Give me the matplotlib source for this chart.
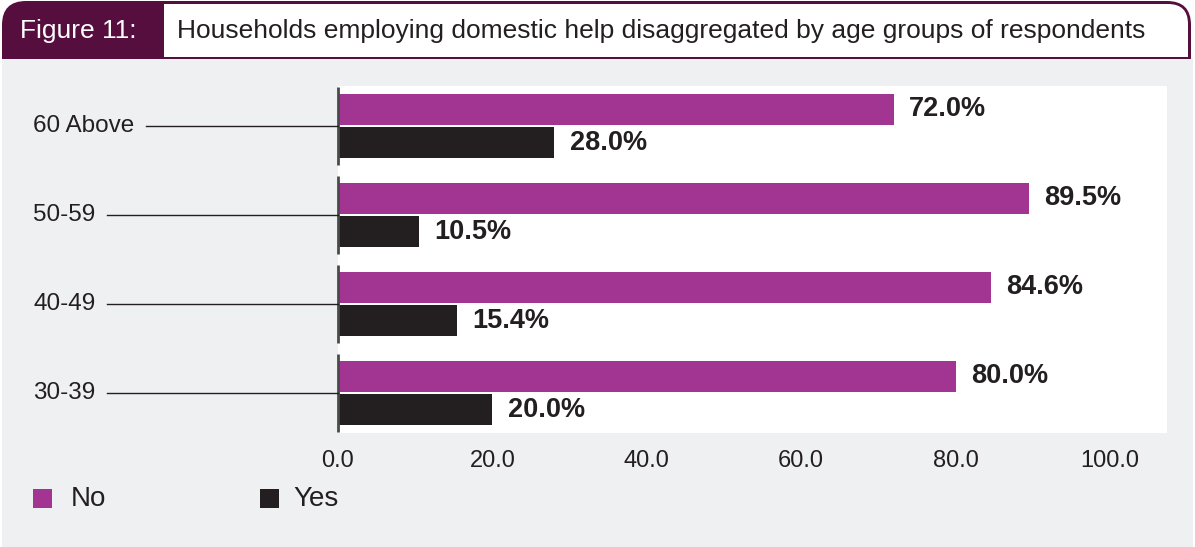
import matplotlib
matplotlib.use('Agg')
import matplotlib.pyplot as plt
from matplotlib.patches import FancyBboxPatch, Rectangle
from matplotlib.lines import Line2D
import numpy as np

# ── Data ───────────────────────────────────────────────────────────
age_groups = ['30-39', '40-49', '50-59', '60 Above']
no_pct = [80.0, 84.6, 89.5, 72.0]
yes_pct = [20.0, 15.4, 10.5, 28.0]
x_ticks = [0, 20, 40, 60, 80, 100]

fig_title = 'Households employing domestic help disaggregated by age groups of respondents'
fig_number = 'Figure 11:'

# ── Colours ────────────────────────────────────────────────────────
PURPLE = '#a33592'
BLACK = '#231f20'
HEADER = '#560e3e'
PANEL = '#eff0f2'

plt.rcParams['font.family'] = ['Liberation Sans', 'DejaVu Sans']

W, H = 1195, 547
fig = plt.figure(figsize=(W / 100, H / 100), dpi=100)

# Background layer in pixel coordinates (y grows downward)
bg = fig.add_axes([0, 0, 1, 1], zorder=0)
bg.set_xlim(0, W)
bg.set_ylim(H, 0)
bg.axis('off')

# grey panel
bg.add_patch(Rectangle((2, 58), W - 4, H - 58, facecolor=PANEL, edgecolor='none'))

# header band: purple shape with rounded top corners
bg.add_patch(FancyBboxPatch((2, 1), 1189, 60, boxstyle='round,pad=0,rounding_size=24',
                            facecolor=HEADER, edgecolor='none'))
bg.add_patch(Rectangle((2, 30), 1189, 29, facecolor=HEADER, edgecolor='none'))
bg.add_patch(Rectangle((2, 59), W - 4, 4, facecolor=PANEL, edgecolor='none'))

# white title box with rounded top-right corner
bg.add_patch(FancyBboxPatch((164, 4), 1024, 53, boxstyle='round,pad=0,rounding_size=20',
                            facecolor='white', edgecolor='none'))
bg.add_patch(Rectangle((164, 4), 900, 53, facecolor='white', edgecolor='none'))
bg.add_patch(Rectangle((164, 30), 1024, 27, facecolor='white', edgecolor='none'))

bg.text(20, 31, fig_number, color='white', fontsize=19, ha='left', va='center')
bg.text(177, 31, fig_title, color='#231f20', fontsize=19, ha='left', va='center')

# legend
bg.add_patch(Rectangle((33, 489), 19, 19, facecolor=PURPLE, edgecolor='none'))
bg.text(71, 499, 'No', fontsize=20, ha='left', va='center', color=BLACK)
bg.add_patch(Rectangle((260, 489), 19, 19, facecolor=BLACK, edgecolor='none'))
bg.text(293, 499, 'Yes', fontsize=20, ha='left', va='center', color=BLACK)

# ── Bar chart ──────────────────────────────────────────────────────
ax = fig.add_axes([338 / W, 1 - 433 / H, (1167 - 338) / W, (433 - 86) / H], zorder=1)
y = np.arange(len(age_groups))
h = 0.35
off = 0.187

ax.barh(y + off, no_pct, height=h, color=PURPLE, label='No')
ax.barh(y - off, yes_pct, height=h, color=BLACK, label='Yes')

for yi, v in zip(y, no_pct):
    ax.text(v + 2.0, yi + off, f'{v:.1f}%', va='center', ha='left',
            fontsize=19.5, fontweight='bold', color=BLACK)
for yi, v in zip(y, yes_pct):
    ax.text(v + 2.0, yi - off, f'{v:.1f}%', va='center', ha='left',
            fontsize=19.5, fontweight='bold', color=BLACK)

ax.set_xlim(0, 107.4)
ax.set_ylim(-0.45, len(age_groups) - 0.55)
ax.set_facecolor('white')
for s in ax.spines.values():
    s.set_visible(False)
ax.set_xticks(x_ticks)
ax.set_xticklabels([f'{t:.1f}' for t in x_ticks], fontsize=17, color=BLACK)
ax.tick_params(axis='x', length=0, pad=12)
ax.set_yticks([])

# broken y-axis: one segment per category
for yi in y:
    ax.plot([0, 0], [yi - 0.44, yi + 0.44], color='#4a4a4a', lw=2,
            solid_capstyle='butt', clip_on=False, zorder=3)

# category labels with leader lines to the axis
fig.canvas.draw()
renderer = fig.canvas.get_renderer()
inv = fig.transFigure.inverted()
for yi, name in zip(y, age_groups):
    ypix = ax.transData.transform((0, yi))[1]
    yfig = inv.transform((0, ypix))[1]
    t = fig.text(33 / W, yfig, name, fontsize=17.5, color=BLACK, ha='left', va='center')
    bb = t.get_window_extent(renderer)
    x0 = inv.transform((bb.x1 + 12, 0))[0]
    fig.add_artist(Line2D([x0, 338 / W], [yfig, yfig], color=BLACK, lw=1,
                          transform=fig.transFigure, zorder=2))

fig.savefig('out.png', dpi=100)
